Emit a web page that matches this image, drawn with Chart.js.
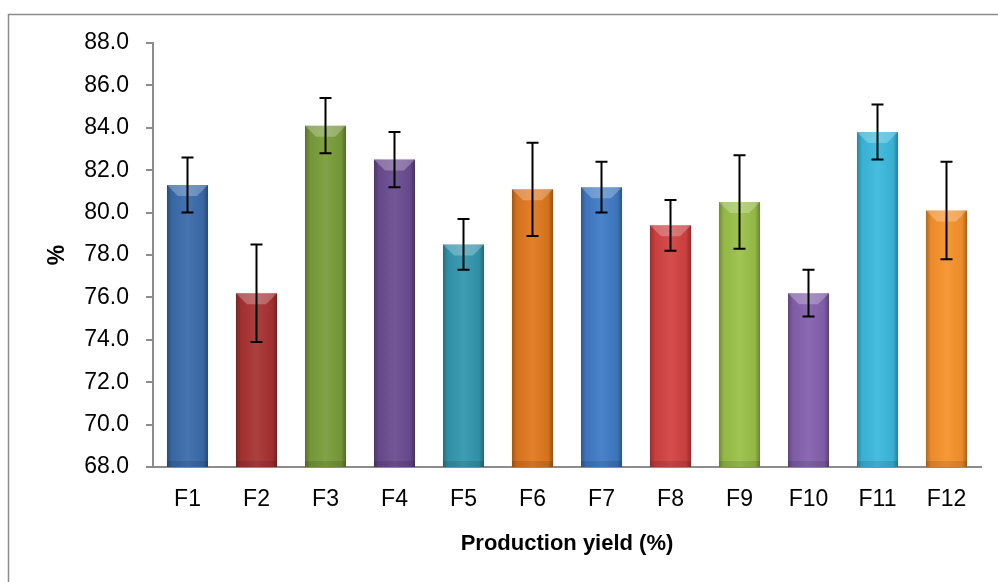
<!DOCTYPE html>
<html>
<head>
<meta charset="utf-8">
<script src="https://cdn.jsdelivr.net/npm/chart.js@4.4.1/dist/chart.umd.min.js"></script>
<style>
    html, body { margin: 0; padding: 0; background: #ffffff; }
    #wrap { width: 998px; height: 582px; position: relative; }
</style>
</head>
<body>
<div id="wrap"><canvas id="yieldChart"></canvas></div>
<script>
// Production yield per formulation, with error bars (SD)
var formulations = ['F1', 'F2', 'F3', 'F4', 'F5', 'F6', 'F7', 'F8', 'F9', 'F10', 'F11', 'F12'];
var yieldMean = [81.3, 76.2, 84.1, 82.5, 78.5, 81.1, 81.2, 79.4, 80.5, 76.2, 83.8, 80.1];
var yieldSd = [1.3, 2.3, 1.3, 1.3, 1.2, 2.2, 1.2, 1.2, 2.2, 1.1, 1.3, 2.3];
var barColors = ['#3a6cab', '#a93333', '#7a9c3b', '#6a4c90', '#3397ae', '#e0781e',
                 '#3f7bc6', '#d24242', '#9bc149', '#8561ae', '#3bb9dd', '#f7922c'];

// frame round the whole chart
var framePlugin = {
    id: 'frame',
    beforeDraw: function(chart) {
        var ctx = chart.ctx;
        ctx.save();
        ctx.fillStyle = '#ffffff';
        ctx.fillRect(0, 0, chart.width, chart.height);
        ctx.strokeStyle = '#8c8c8c';
        ctx.lineWidth = 1.5;
        ctx.strokeRect(8.5, 14.5, 1000, 600);
        ctx.restore();
    }
};

// bevel look on the bars, then the error bars on top
var bevelPlugin = {
    id: 'bevel',
    afterDatasetsDraw: function(chart) {
        var ctx = chart.ctx;
        var meta = chart.getDatasetMeta(0);
        var yScale = chart.scales.y;
        var area = chart.chartArea;
        ctx.save();
        meta.data.forEach(function(bar, i) {
            var left = bar.x - bar.width / 2;
            var right = bar.x + bar.width / 2;
            var top = bar.y;
            var bottom = Math.min(bar.base, area.bottom);

            var g = ctx.createLinearGradient(left, 0, right, 0);
            g.addColorStop(0, 'rgba(0,0,0,0.28)');
            g.addColorStop(0.12, 'rgba(0,0,0,0.05)');
            g.addColorStop(0.5, 'rgba(255,255,255,0.06)');
            g.addColorStop(0.88, 'rgba(0,0,0,0.05)');
            g.addColorStop(1, 'rgba(0,0,0,0.32)');
            ctx.fillStyle = g;
            ctx.fillRect(left, top, bar.width, bottom - top);

            ctx.fillStyle = 'rgba(255,255,255,0.25)';
            ctx.beginPath();
            ctx.moveTo(left, top);
            ctx.lineTo(right, top);
            ctx.lineTo(right - 11, top + 11);
            ctx.lineTo(left + 11, top + 11);
            ctx.closePath();
            ctx.fill();

            ctx.fillStyle = 'rgba(0,0,0,0.10)';
            ctx.fillRect(left, bottom - 6, bar.width, 6);
        });

        ctx.strokeStyle = '#000000';
        ctx.lineWidth = 2;
        meta.data.forEach(function(bar, i) {
            var yHi = yScale.getPixelForValue(yieldMean[i] + yieldSd[i]);
            var yLo = yScale.getPixelForValue(yieldMean[i] - yieldSd[i]);
            ctx.beginPath();
            ctx.moveTo(bar.x, yHi);
            ctx.lineTo(bar.x, yLo);
            ctx.moveTo(bar.x - 6, yHi);
            ctx.lineTo(bar.x + 6, yHi);
            ctx.moveTo(bar.x - 6, yLo);
            ctx.lineTo(bar.x + 6, yLo);
            ctx.stroke();
        });
        ctx.restore();
    }
};

var ctxYield = document.getElementById('yieldChart');
new Chart(ctxYield, {
    type: 'bar',
    data: {
        labels: formulations,
        datasets: [{
            data: yieldMean,
            backgroundColor: barColors,
            borderWidth: 0,
            categoryPercentage: 1,
            barPercentage: 0.595
        }]
    },
    options: {
        responsive: true,
        maintainAspectRatio: false,
        animation: false,
        layout: {
            padding: { top: 43, left: 0, right: 17, bottom: 0 }
        },
        plugins: {
            legend: { display: false },
            tooltip: { enabled: false }
        },
        scales: {
            x: {
                grid: { display: false },
                border: { display: true, color: '#8c8c8c', width: 2 },
                ticks: {
                    color: '#000000',
                    padding: 11,
                    font: { family: 'Liberation Sans, Arial, sans-serif', size: 23 }
                },
                title: {
                    display: true,
                    text: 'Production yield (%)',
                    color: '#000000',
                    padding: { top: 0, bottom: 25 },
                    font: { family: 'Liberation Sans, Arial, sans-serif', size: 22, weight: 'bold' }
                },
                afterFit: function(scale) { scale.height = 115; }
            },
            y: {
                min: 68,
                max: 88,
                grid: {
                    drawOnChartArea: false,
                    drawTicks: true,
                    tickLength: 7,
                    color: '#8c8c8c',
                    lineWidth: 2
                },
                border: { display: true, color: '#8c8c8c', width: 2 },
                ticks: {
                    stepSize: 2,
                    color: '#000000',
                    padding: 17,
                    font: { family: 'Liberation Sans, Arial, sans-serif', size: 23 },
                    callback: function(v) { return v.toFixed(1); }
                },
                title: {
                    display: true,
                    text: '%',
                    color: '#000000',
                    padding: { top: 44, bottom: 0 },
                    font: { family: 'Liberation Sans, Arial, sans-serif', size: 23, weight: 'bold' }
                },
                afterFit: function(scale) { scale.width = 153; }
            }
        }
    },
    plugins: [framePlugin, bevelPlugin]
});
</script>
</body>
</html>
